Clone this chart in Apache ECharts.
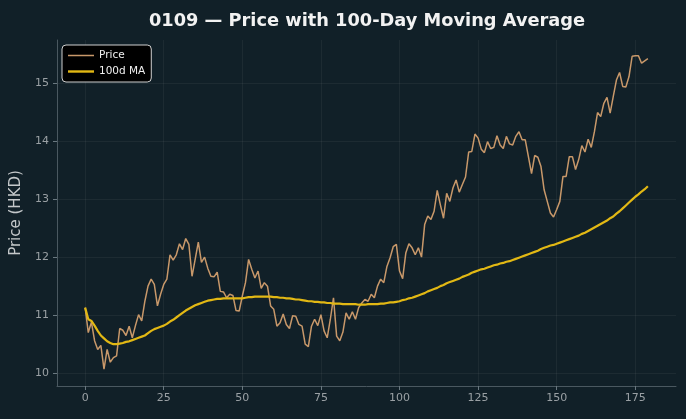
<!DOCTYPE html>
<html>
<head>
<meta charset="utf-8">
<script src="https://cdn.jsdelivr.net/npm/echarts@6/dist/echarts.min.js"></script>
<style>
html,body{margin:0;padding:0;background:#112028;}
#chart{width:686px;height:419px;}
</style>
</head>
<body>
<div id="chart"></div>
<script>
const titleText = '0109 — Price with 100-Day Moving Average';
const xTicks = [0, 25, 50, 75, 100, 125, 150, 175];
const yTicks = [10, 11, 12, 13, 14, 15];
const price = [
11.13,10.70,10.88,10.56,10.41,10.48,10.07,10.41,10.19,10.27,
10.30,10.77,10.74,10.65,10.81,10.61,10.82,11.01,10.90,11.24,
11.50,11.62,11.53,11.16,11.36,11.53,11.62,12.04,11.95,12.04,
12.23,12.13,12.32,12.22,11.67,11.96,12.26,11.91,12.00,11.81,
11.67,11.66,11.74,11.41,11.40,11.30,11.36,11.34,11.08,11.07,
11.33,11.56,11.96,11.79,11.64,11.76,11.46,11.56,11.50,11.16,
11.10,10.81,10.87,11.02,10.84,10.77,10.99,10.98,10.84,10.81,
10.50,10.46,10.81,10.93,10.82,11.01,10.73,10.61,10.93,11.30,
10.64,10.56,10.71,11.04,10.93,11.06,10.93,11.13,11.21,11.27,
11.24,11.36,11.30,11.50,11.62,11.56,11.84,11.99,12.18,12.22,
11.76,11.63,12.07,12.23,12.16,12.04,12.16,12.00,12.56,12.71,
12.65,12.79,13.15,12.90,12.67,13.10,12.96,13.19,13.33,13.12,
13.25,13.38,13.81,13.82,14.12,14.05,13.86,13.80,13.99,13.87,
13.89,14.09,13.93,13.87,14.08,13.95,13.93,14.08,14.16,14.02,
14.02,13.73,13.44,13.75,13.72,13.56,13.16,12.96,12.76,12.69,
12.82,12.96,13.39,13.39,13.73,13.73,13.51,13.68,13.92,13.81,
14.03,13.89,14.16,14.49,14.42,14.65,14.75,14.48,14.77,15.05,
15.18,14.94,14.93,15.11,15.46,15.47,15.47,15.34,15.38,15.42
];
const ma100 = [
11.13,10.93,10.90,10.82,10.73,10.65,10.60,10.55,10.52,10.50,
10.50,10.51,10.52,10.54,10.55,10.57,10.59,10.61,10.63,10.65,
10.69,10.73,10.76,10.78,10.80,10.82,10.85,10.89,10.92,10.96,
11.00,11.04,11.08,11.11,11.14,11.17,11.19,11.21,11.23,11.25,
11.26,11.27,11.28,11.28,11.29,11.29,11.29,11.29,11.29,11.29,
11.29,11.30,11.31,11.31,11.32,11.32,11.32,11.32,11.32,11.32,
11.31,11.31,11.30,11.30,11.29,11.29,11.28,11.27,11.27,11.26,
11.25,11.24,11.24,11.23,11.23,11.22,11.22,11.21,11.21,11.20,
11.20,11.20,11.19,11.19,11.19,11.19,11.19,11.18,11.18,11.18,
11.19,11.19,11.19,11.19,11.20,11.20,11.21,11.22,11.22,11.23,
11.24,11.26,11.27,11.29,11.30,11.32,11.34,11.36,11.38,11.41,
11.43,11.45,11.47,11.50,11.52,11.55,11.57,11.59,11.61,11.63,
11.66,11.68,11.70,11.73,11.75,11.77,11.79,11.80,11.82,11.84,
11.86,11.87,11.89,11.90,11.92,11.93,11.95,11.97,11.99,12.01,
12.03,12.05,12.07,12.09,12.11,12.14,12.16,12.18,12.20,12.21,
12.23,12.25,12.27,12.29,12.31,12.33,12.35,12.37,12.40,12.42,
12.45,12.48,12.51,12.54,12.57,12.60,12.63,12.67,12.70,12.75,
12.79,12.84,12.89,12.94,12.99,13.04,13.08,13.13,13.17,13.22
];
const priceData = price.map((v, i) => [i, v]);
const maData = ma100.map((v, i) => [i, v]);
const font = 'DejaVu Sans';
const priceColor = '#c8986a';
const maColor = '#e2b814';
const chart = echarts.init(document.getElementById('chart'), null, {renderer: 'canvas'});
chart.setOption({
  backgroundColor: '#112028',
  animation: false,
  title: {
    text: titleText, left: 362, textAlign: 'center', top: 7,
    textStyle: {color: '#f2f2f2', fontSize: 17.8, fontWeight: 'bold', fontFamily: font}
  },
  legend: {
    orient: 'vertical', left: 62, top: 45,
    backgroundColor: '#000000', borderColor: '#cfcfcf', borderWidth: 1, borderRadius: 4,
    padding: [5, 6, 5, 6], itemGap: 5, itemWidth: 26, itemHeight: 10,
    textStyle: {color: '#f0f0f0', fontSize: 10.5, fontFamily: font},
    data: [
      {name: 'Price', icon: 'path://M0,0h26v1.5h-26z', itemStyle: {color: priceColor}},
      {name: '100d MA', icon: 'path://M0,0h26v2.4h-26z', itemStyle: {color: maColor}}
    ]
  },
  grid: {left: 57, right: 10, top: 40, bottom: 33, containLabel: false, outerBoundsMode: 'none'},
  xAxis: {
    type: 'value', min: -8.95, max: 187.95,
    axisLine: {show: true, onZero: false, lineStyle: {color: '#4a5860'}},
    axisTick: {show: true, length: 4, customValues: xTicks, lineStyle: {color: '#6a7880'}},
    axisLabel: {customValues: xTicks, color: '#9aa0a4', fontSize: 11, fontFamily: font, margin: 7},
    splitLine: {show: true, lineStyle: {color: 'rgba(255,255,255,0.05)', width: 1}}
  },
  yAxis: {
    type: 'value', min: 9.78, max: 15.74,
    name: 'Price (HKD)', nameLocation: 'middle', nameGap: 32, nameRotate: 90,
    nameTextStyle: {color: '#c4c8ca', fontSize: 15, fontFamily: font},
    axisLine: {show: true, onZero: false, lineStyle: {color: '#4a5860'}},
    axisTick: {show: true, length: 4, customValues: yTicks, lineStyle: {color: '#6a7880'}},
    axisLabel: {customValues: yTicks, color: '#9aa0a4', fontSize: 11, fontFamily: font, margin: 8},
    splitLine: {show: true, lineStyle: {color: 'rgba(255,255,255,0.05)', width: 1}}
  },
  series: [
    {name: 'Price', type: 'line', data: priceData, symbol: 'none', showSymbol: false,
     lineStyle: {color: priceColor, width: 1.5}, itemStyle: {color: priceColor}, z: 2},
    {name: '100d MA', type: 'line', data: maData, symbol: 'none', showSymbol: false,
     lineStyle: {color: maColor, width: 2.2}, itemStyle: {color: maColor}, z: 3}
  ]
});
</script>
</body>
</html>
